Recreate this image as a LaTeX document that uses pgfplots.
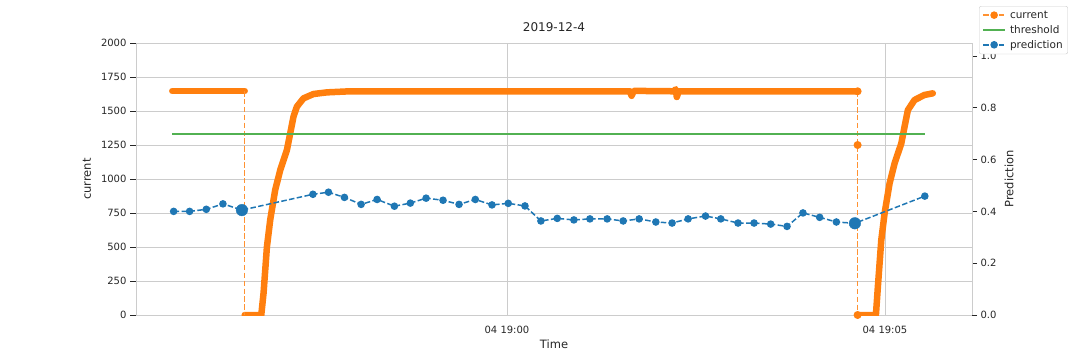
\documentclass[border=0pt]{standalone}
\usepackage{fontspec}
\setmainfont{DejaVu Sans}
\usepackage{pgfplots}
\pgfplotsset{compat=1.18}
\definecolor{cOrange}{HTML}{FF7F0E}
\definecolor{cBlue}{HTML}{1F77B4}
\definecolor{cGreen}{HTML}{2CA02C}
\definecolor{gridgray}{HTML}{CCCCCC}
\definecolor{txtgray}{HTML}{262626}
\colorlet{cGreenL}{cGreen!82!white}
\colorlet{cOrangeL}{cOrange!85!white}
\begin{document}
\begin{tikzpicture}
\path[use as bounding box] (0pt,0pt) rectangle (1080pt,360pt);
% ---------------- left axis: current ----------------
\begin{axis}[
  at={(136pt,45pt)}, anchor=south west,
  width=836pt, height=272pt, scale only axis,
  xmin=-4.907, xmax=6.151, ymin=0, ymax=2000,
  xtick={0,5}, xticklabels={04 19:00,04 19:05},
  ytick={0,250,...,2000},
  ytick pos=left, xtick pos=bottom,
  tick align=outside, major tick length=6pt,
  xtick style={draw=none},
  ytick style={draw=txtgray, line width=0.9pt},
  grid=major, grid style={draw=gridgray, line width=0.9pt},
  axis line style={draw=gridgray, line width=1pt},
  tick label style={font=\fontsize{10}{12}\selectfont, text=txtgray},
  xticklabel style={yshift=-1.5pt},
  /pgf/number format/1000 sep={},
  /pgf/number format/assume math mode=true,
  xlabel={Time}, ylabel={current},
  label style={font=\fontsize{11.5}{13}\selectfont, text=txtgray},
  xlabel style={at={(axis description cs:0.5,-0.1066)}, anchor=center},
  ylabel style={at={(axis description cs:-0.0586,0.5)}, anchor=center},
  title={2019-12-4},
  title style={font=\fontsize{12}{14}\selectfont, text=txtgray, at={(axis description cs:0.5,1.022)}, anchor=base},
  clip=true,
]
% dense current segments drawn as thick band
\addplot[cOrange, line width=6.5pt, line cap=round, line join=round] coordinates {
 (-4.427,1647) (-3.469,1647)
};
\addplot[cOrange, line width=6.5pt, line cap=round, line join=round] coordinates {
 (-3.469,0) (-3.250,0) (-3.220,160) (-3.175,502) (-3.132,698) (-3.066,919)
 (-2.999,1066) (-2.911,1213) (-2.867,1336) (-2.824,1458) (-2.779,1532)
 (-2.692,1593) (-2.559,1625) (-2.382,1637) (-2.075,1645) (1.625,1645)
 (1.648,1612) (1.678,1648) (2.207,1645) (2.233,1660) (2.246,1603)
 (2.272,1645) (4.638,1645)
};
\addplot[cOrange, line width=6.5pt, line cap=round, line join=round] coordinates {
 (4.638,0) (4.880,0) (4.906,208) (4.951,551) (4.995,748) (5.061,968)
 (5.127,1115) (5.216,1262) (5.259,1385) (5.303,1507) (5.391,1581)
 (5.523,1618) (5.633,1630)
};
% sparse parts of the current series (dashed with markers)
\addplot[cOrangeL, line width=1.5pt, dash pattern=on 5.5pt off 2.4pt] coordinates {
 (-3.469,1647) (-3.469,0)
};
\addplot[cOrangeL, line width=1.5pt, dash pattern=on 5.5pt off 2.4pt, mark=*, mark size=3.2pt, mark options={solid, fill=cOrange, draw=cOrange}] coordinates {
 (4.638,1645) (4.638,1250) (4.638,0)
};
\end{axis}
% ---------------- right axis: prediction ----------------
\begin{axis}[
  at={(136pt,45pt)}, anchor=south west,
  width=836pt, height=272pt, scale only axis,
  xmin=-4.907, xmax=6.151, ymin=0, ymax=1.05,
  axis x line=none, axis y line*=right,
  ytick={0,0.2,0.4,0.6,0.8,1.0},
  tick align=outside, major tick length=5pt,
  ytick style={draw=txtgray, line width=0.9pt},
  axis line style={draw=gridgray, line width=1pt},
  tick label style={font=\fontsize{10}{12}\selectfont, text=txtgray},
  yticklabel style={/pgf/number format/.cd, fixed, fixed zerofill, precision=1, assume math mode=true},
  ylabel={Prediction},
  ylabel style={font=\fontsize{11.5}{13}\selectfont, text=txtgray, at={(axis description cs:1.0443,0.5)}, anchor=center},
  legend style={at={(axis description cs:1.0084,1.136)}, anchor=north west,
    draw=gridgray, rounded corners=2pt, fill=white,
    nodes={font=\fontsize{10.5}{12}\selectfont, text=txtgray},
    inner xsep=3pt, inner ysep=2.5pt, row sep=1.5pt, column sep=2pt},
  legend cell align=left,
  legend image code/.code={\draw[mark repeat=2,mark phase=2] plot coordinates {(0pt,0pt) (11pt,0pt) (22pt,0pt)};},
]
\addlegendimage{cOrangeL, line width=1.5pt, dash pattern=on 5.5pt off 2.4pt, mark=*, mark size=3pt, mark options={solid, fill=cOrange, draw=cOrange}}
\addlegendentry{current}
\addplot[cGreenL, line width=1.8pt] coordinates {(-4.427,0.7) (5.523,0.7)};
\addlegendentry{threshold}
\addplot[cBlue, line width=1.5pt, dash pattern=on 5.5pt off 2.4pt, mark=*, mark size=3pt, mark options={solid}] coordinates {
 (-4.409,0.400) (-4.198,0.400) (-3.977,0.408) (-3.757,0.429) (-3.506,0.405)
 (-2.567,0.466) (-2.361,0.474) (-2.150,0.454) (-1.929,0.427) (-1.718,0.446)
 (-1.489,0.420) (-1.278,0.432) (-1.070,0.451) (-0.846,0.443) (-0.634,0.427)
 (-0.419,0.446) (-0.198,0.425) (0.017,0.431) (0.238,0.421) (0.449,0.363)
 (0.665,0.373) (0.885,0.367) (1.097,0.371) (1.325,0.371) (1.537,0.363)
 (1.748,0.371) (1.969,0.359) (2.184,0.355) (2.396,0.371) (2.626,0.382)
 (2.828,0.371) (3.056,0.355) (3.268,0.355) (3.488,0.351) (3.704,0.342)
 (3.915,0.394) (4.136,0.377) (4.357,0.359) (4.602,0.354) (5.527,0.459)
};
\addlegendentry{prediction}
\addplot[cBlue, only marks, mark=*, mark size=5.8pt, forget plot] coordinates {
 (-3.506,0.405) (4.602,0.354)
};
\end{axis}
\end{tikzpicture}
\end{document}
